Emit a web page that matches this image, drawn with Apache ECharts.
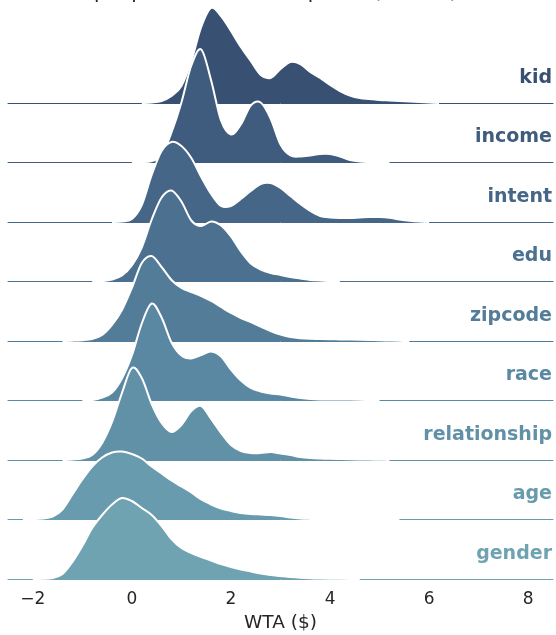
<!DOCTYPE html>
<html>
<head>
<meta charset="utf-8">
<script src="https://cdn.jsdelivr.net/npm/echarts@6/dist/echarts.min.js"></script>
<style>
  html, body { margin: 0; padding: 0; background: #ffffff; }
  #chart { width: 556px; height: 635px; }
</style>
</head>
<body>
<div id="chart"></div>
<script>
// Ridge names, top to bottom
const groups = ['kid', 'income', 'intent', 'edu', 'zipcode', 'race', 'relationship', 'age', 'gender'];

// Fill / label colour for each ridge (dark slate down to pale teal)
const ridgeColors = ['#385072', '#3f5b7d', '#456687', '#4c7190', '#537c99', '#5a87a1', '#6191a7', '#689bad', '#6fa3b2'];

// Kernel density of WTA ($) per request type: [WTA, density]
const kid = [[0.2,0],[0.4,0.005],[0.6,0.02],[0.8,0.07],[1.0,0.17],[1.2,0.42],[1.4,0.76],[1.6,0.95],[1.8,0.87],[2.0,0.72],[2.2,0.56],[2.4,0.42],[2.6,0.28],[2.8,0.25],[3.0,0.34],[3.2,0.41],[3.4,0.39],[3.6,0.31],[3.8,0.25],[4.0,0.18],[4.2,0.12],[4.4,0.075],[4.6,0.05],[4.8,0.04],[5.0,0.03],[5.2,0.025],[5.4,0.02],[5.6,0.015],[5.8,0.01],[6.0,0.005],[6.2,0]];
const income = [[0.0,0],[0.2,0.005],[0.4,0.015],[0.6,0.07],[0.8,0.30],[1.0,0.60],[1.2,0.97],[1.4,1.13],[1.6,0.82],[1.8,0.42],[2.0,0.28],[2.2,0.38],[2.4,0.57],[2.6,0.60],[2.8,0.44],[3.0,0.18],[3.2,0.07],[3.4,0.06],[3.6,0.07],[3.8,0.085],[4.0,0.085],[4.2,0.06],[4.4,0.025],[4.6,0.01],[4.8,0.005],[5.0,0.002],[5.2,0]];
const intent = [[-0.4,0],[-0.2,0.005],[0.0,0.03],[0.2,0.17],[0.4,0.47],[0.6,0.71],[0.8,0.80],[1.0,0.76],[1.2,0.64],[1.4,0.45],[1.6,0.28],[1.8,0.16],[2.0,0.16],[2.2,0.23],[2.4,0.31],[2.6,0.38],[2.8,0.39],[3.0,0.34],[3.2,0.26],[3.4,0.18],[3.6,0.11],[3.8,0.06],[4.0,0.045],[4.2,0.04],[4.4,0.04],[4.6,0.045],[4.8,0.05],[5.0,0.05],[5.2,0.042],[5.4,0.025],[5.6,0.012],[5.8,0.004],[6.0,0]];
const edu = [[-0.8,0],[-0.6,0.005],[-0.4,0.02],[-0.2,0.06],[0.0,0.16],[0.2,0.34],[0.4,0.62],[0.6,0.84],[0.8,0.91],[1.0,0.80],[1.2,0.61],[1.4,0.555],[1.6,0.60],[1.8,0.56],[2.0,0.45],[2.2,0.30],[2.4,0.18],[2.6,0.12],[2.8,0.085],[3.0,0.065],[3.2,0.045],[3.4,0.03],[3.6,0.015],[3.8,0.01],[4.0,0.004],[4.2,0]];
const zipcode = [[-1.4,0],[-1.2,0.003],[-1.0,0.008],[-0.8,0.02],[-0.6,0.06],[-0.4,0.16],[-0.2,0.31],[0.0,0.53],[0.2,0.78],[0.4,0.85],[0.6,0.74],[0.8,0.61],[1.0,0.53],[1.2,0.49],[1.4,0.45],[1.6,0.40],[1.8,0.34],[2.0,0.28],[2.2,0.23],[2.4,0.19],[2.6,0.145],[2.8,0.10],[3.0,0.065],[3.2,0.04],[3.4,0.028],[3.6,0.022],[3.8,0.02],[4.0,0.018],[4.2,0.016],[4.4,0.014],[4.6,0.012],[4.8,0.01],[5.0,0.008],[5.2,0.005],[5.4,0.002],[5.6,0]];
const race = [[-1.0,0],[-0.8,0.005],[-0.6,0.03],[-0.4,0.08],[-0.2,0.22],[0.0,0.45],[0.2,0.77],[0.4,0.97],[0.6,0.83],[0.8,0.58],[1.0,0.45],[1.2,0.42],[1.4,0.455],[1.6,0.49],[1.8,0.44],[2.0,0.31],[2.2,0.20],[2.4,0.125],[2.6,0.09],[2.8,0.07],[3.0,0.06],[3.2,0.04],[3.4,0.025],[3.6,0.015],[3.8,0.01],[4.0,0.01],[4.2,0.01],[4.4,0.01],[4.6,0.008],[4.8,0.004],[5.0,0]];
const relationship = [[-1.4,0],[-1.2,0.005],[-1.0,0.015],[-0.8,0.05],[-0.6,0.17],[-0.4,0.38],[-0.2,0.67],[0.0,0.92],[0.2,0.82],[0.4,0.56],[0.6,0.37],[0.8,0.28],[1.0,0.35],[1.2,0.49],[1.4,0.54],[1.6,0.41],[1.8,0.27],[2.0,0.15],[2.2,0.09],[2.4,0.07],[2.6,0.07],[2.8,0.08],[3.0,0.065],[3.2,0.05],[3.4,0.03],[3.6,0.02],[3.8,0.015],[4.0,0.012],[4.2,0.01],[4.4,0.008],[4.6,0.006],[4.8,0.004],[5.0,0.002],[5.2,0]];
const age = [[-2.2,0],[-2.0,0.003],[-1.8,0.01],[-1.6,0.03],[-1.4,0.10],[-1.2,0.25],[-1.0,0.40],[-0.8,0.53],[-0.6,0.62],[-0.4,0.67],[-0.2,0.68],[0.0,0.655],[0.2,0.61],[0.4,0.53],[0.6,0.46],[0.8,0.39],[1.0,0.33],[1.2,0.27],[1.4,0.20],[1.6,0.15],[1.8,0.11],[2.0,0.085],[2.2,0.065],[2.4,0.055],[2.6,0.05],[2.8,0.045],[3.0,0.035],[3.2,0.02],[3.4,0.01],[3.6,0.006],[3.8,0.004],[4.0,0.003],[4.2,0.002],[4.4,0.002],[4.6,0.002],[4.8,0.001],[5.0,0.001],[5.2,0.0005],[5.4,0]];
const gender = [[-2.0,0],[-1.8,0.003],[-1.6,0.01],[-1.4,0.05],[-1.2,0.17],[-1.0,0.33],[-0.8,0.51],[-0.6,0.64],[-0.4,0.745],[-0.2,0.81],[0.0,0.78],[0.2,0.71],[0.4,0.64],[0.6,0.53],[0.8,0.40],[1.0,0.31],[1.2,0.26],[1.4,0.22],[1.6,0.185],[1.8,0.15],[2.0,0.12],[2.2,0.095],[2.4,0.075],[2.6,0.055],[2.8,0.04],[3.0,0.03],[3.2,0.02],[3.4,0.013],[3.6,0.008],[3.8,0.005],[4.0,0.003],[4.2,0.002],[4.4,0.001],[4.6,0]];

const densities = [kid, income, intent, edu, zipcode, race, relationship, age, gender];

// Shared x axis
const xMin = -2.5, xMax = 8.5;
const xTicks = [-2, 0, 2, 4, 6, 8];
const xLabel = 'WTA ($)';
const titleText = 'Distributions of how much people value data requests (in WTA) and sensitive attributes';

// Layout: ridges overlap, each baseline one row step below the previous one
const firstBaseline = 103;
const rowStep = 59.5;
const ridgeHeight = 100;   // pixels for a density of 1
const plotLeft = 8, plotRight = 3;
const fontFamily = '"DejaVu Sans", sans-serif';

// Draws one ridge as a filled Catmull-Rom curve with a white outline.
// Points are projected through the grid's own axes with api.coord.
function ridgeRenderer(color) {
  return function (params, api) {
    if (params.dataIndexInside !== 0) return null;
    const n = params.dataInsideLength;
    const pts = [];
    for (let k = 0; k < n; k++) {
      pts.push(api.coord([api.value(0, k), api.value(1, k)]));
    }
    const baseY = api.coord([0, 0])[1];
    let curve = '';
    for (let k = 0; k < n - 1; k++) {
      const p0 = pts[Math.max(k - 1, 0)], p1 = pts[k], p2 = pts[k + 1], p3 = pts[Math.min(k + 2, n - 1)];
      const c1x = p1[0] + (p2[0] - p0[0]) / 6;
      const c1y = Math.min(p1[1] + (p2[1] - p0[1]) / 6, baseY);
      const c2x = p2[0] - (p3[0] - p1[0]) / 6;
      const c2y = Math.min(p2[1] - (p3[1] - p1[1]) / 6, baseY);
      curve += ' C' + c1x + ',' + c1y + ' ' + c2x + ',' + c2y + ' ' + p2[0] + ',' + p2[1];
    }
    const first = pts[0], lastPt = pts[n - 1];
    const areaPath = 'M' + first[0] + ',' + baseY + ' L' + first[0] + ',' + first[1] + curve +
      ' L' + lastPt[0] + ',' + baseY + ' Z';
    const outlinePath = 'M' + first[0] + ',' + first[1] + curve;
    return {
      type: 'group',
      children: [
        { type: 'path', shape: { pathData: areaPath }, style: { fill: color, stroke: null } },
        { type: 'path', shape: { pathData: outlinePath }, style: { fill: null, stroke: '#ffffff', lineWidth: 2, lineJoin: 'round' } }
      ]
    };
  };
}

const grids = [], xAxes = [], yAxes = [], series = [], graphics = [];
const last = groups.length - 1;

groups.forEach((name, i) => {
  const baseline = firstBaseline + i * rowStep;
  grids.push({
    left: plotLeft, right: plotRight, top: baseline - ridgeHeight, height: ridgeHeight,
    containLabel: false, outerBoundsMode: 'none'
  });
  xAxes.push({
    type: 'value', gridIndex: i, min: xMin, max: xMax,
    axisLine: { show: true, onZero: false, lineStyle: { color: ridgeColors[i], width: 1 } },
    axisTick: { show: false },
    splitLine: { show: false },
    axisLabel: {
      show: i === last,
      customValues: xTicks,
      formatter: v => String(v).replace('-', '\u2212'),
      color: '#262626', fontSize: 17, fontFamily: fontFamily, margin: 12
    },
    name: i === last ? xLabel : '',
    nameLocation: 'middle', nameGap: 35,
    nameTextStyle: { color: '#262626', fontSize: 18.5, fontFamily: fontFamily }
  });
  yAxes.push({ type: 'value', gridIndex: i, min: 0, max: 1, show: false });
  series.push({
    name: name, type: 'custom', coordinateSystem: 'cartesian2d',
    xAxisIndex: i, yAxisIndex: i,
    dimensions: ['wta', 'density'],
    encode: { x: 0, y: 1 },
    data: densities[i],
    renderItem: ridgeRenderer(ridgeColors[i]),
    clip: false, silent: true,
    z: 2 + i
  });
  graphics.push({
    type: 'text', z: 100, silent: true,
    style: {
      x: 552, y: baseline - 25, text: name,
      textAlign: 'right', textVerticalAlign: 'middle', align: 'right', verticalAlign: 'middle',
      fill: ridgeColors[i], font: 'bold 19px ' + fontFamily
    }
  });
});

// Heading, mostly above the top edge of the figure
graphics.push({
  type: 'text', z: 100, silent: true,
  style: {
    x: -175, y: -7, text: titleText,
    textAlign: 'left', textVerticalAlign: 'middle', align: 'left', verticalAlign: 'middle',
    fill: '#262626', font: '20px ' + fontFamily
  }
});

const chart = echarts.init(document.getElementById('chart'), null, { renderer: 'canvas' });
chart.setOption({
  animation: false,
  backgroundColor: '#ffffff',
  grid: grids,
  xAxis: xAxes,
  yAxis: yAxes,
  series: series,
  graphic: graphics
});
</script>
</body>
</html>
